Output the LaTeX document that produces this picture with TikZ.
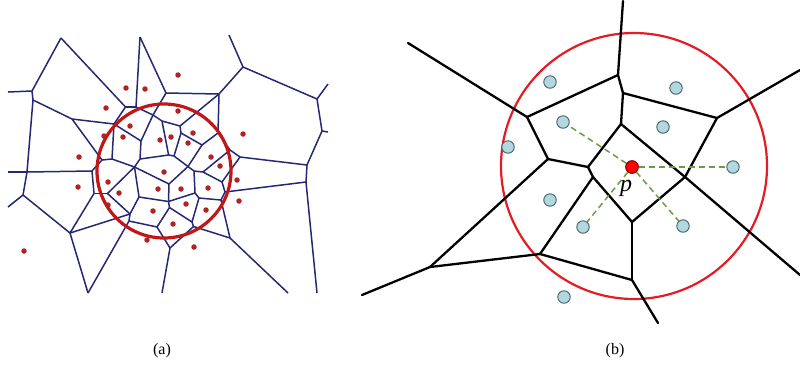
\documentclass[tikz,border=0pt]{standalone}
\usepackage{fontspec}
\setmainfont{Liberation Serif}
\usetikzlibrary{positioning}
\definecolor{navy}{RGB}{38,40,115}
\definecolor{dotred}{RGB}{178,34,34}
\definecolor{ringA}{RGB}{192,24,24}
\definecolor{ringB}{RGB}{228,28,36}
\definecolor{siteblue}{RGB}{176,216,222}
\definecolor{siteline}{RGB}{70,95,100}
\definecolor{link}{RGB}{105,155,75}
\tikzset{
  vedge/.style={draw=navy,line width=1.5pt},
  ldot/.style={circle,fill=dotred,inner sep=0pt,minimum size=5.5pt},
  bedge/.style={draw=black,line width=2.3pt},
  site/.style={circle,draw=siteline,fill=siteblue,line width=0.9pt,
    inner sep=0pt,minimum size=12.5pt},
  query/.style={circle,draw=red!55!black,fill=red,line width=0.9pt,
    inner sep=0pt,minimum size=12.5pt},
  nn/.style={draw=link,line width=1.5pt,dash pattern=on 6pt off 4pt},
  captext/.style={font=\fontsize{16}{18}\selectfont},
}

\begin{document}
\begin{tikzpicture}[x=1pt,y=-1pt]
  \useasboundingbox (0,0) rectangle (800,368);
  % (a) cells of the whole point set
  \foreach \n/\x/\y in {v1/61/38, v2/32/91, v2b/33/100, v3/125.5/107, v5/72/119,
      v6/114/124, t1/140/37, t2/136/107, v7/166/93, v8/219/94, v9/243/67,
      v10/317/99, v11/322/131, v12/307/165, v13/306/182, w1/230/238,
      q1/27/172, q4/23/195, q5/70/233, q6/88/293,
      x1/180/126, x2/162/121, x3/153/115, x4/141/141, x5/140/159,
      x6/168.6/155, x7/181/133, x8/174/156, x9/202/145, x10/218/133,
      x11/230/150, x12/240/157, x13/203/172, x14/188/166.5, x15/194/171,
      x16/169/184, x17/134.5/167, x18/112/159, x19/102/160, x20/92/171,
      x21/94/193.5, x22/107.5/193.5, x23/139/197, x24/168.5/201.5,
      x25/195/193, x26/199/198, x27/222/182, x28/225/192, x29/221/200,
      x30/192/222, x31/193.5/226.5, x32/170/248, x33/157/227,
      x34/169.5/207.5, x35/129/221, x36/130/214,
      e1/8/92, e2/229/35, e3/328/84, e4/328/132, e5/317/293, e6/288/293,
      e7/8/172, e8/8/207, e9/162/293}
    \coordinate (\n) at (\x,\y);
  \foreach \a/\b in {v1/v2, v1/v3, v2/e1, v2/v2b, v2b/v5, v2b/q1, v5/v6,
      v5/x19, v6/v3, v6/x4, v6/x18, v3/t2, t1/t2, t1/v7, t2/x3, x3/v7, x3/x2,
      x3/x4, v7/v8, v8/v9, v8/x10, v8/x1, v9/e2, v9/v10, v10/e3, v10/v11,
      v11/e4, v11/v12, v12/x12, v12/v13, v13/x28, v13/e5, w1/e6, w1/x29,
      w1/x31, q1/e7, q1/x20, q1/q4, q4/e8, q4/q5, q5/q6, q5/x21, q5/x36,
      q6/x35, x1/x2, x1/x7, x2/x6, x4/x5, x5/x6, x5/x17, x6/x8, x7/x8, x7/x9,
      x8/x14, x9/x10, x9/x14, x10/x11, x11/x12, x11/x13, x12/x27, x13/x15,
      x13/x27, x14/x15, x14/x16, x15/x25, x16/x17, x16/x24, x17/x18, x17/x22,
      x17/x23, x18/x19, x19/x20, x20/x21, x21/x22, x22/x36, x23/x24, x23/x36,
      x24/x25, x24/x34, x25/x26, x26/x29, x26/x30, x27/x28, x28/x29, x30/x34,
      x30/x31, x31/x32, x32/e9, x32/x33, x33/x34, x33/x35, x35/x36}
    \draw[vedge] (\a) -- (\b);
  \draw[ringA,line width=3.2pt] (164,171) circle[radius=67];
  \foreach \x/\y [count=\i] in {178/75, 126/88, 145/89, 106/108, 178/111,
      130/126, 104/136, 123/137, 160/140, 171/137, 188/143, 193/133, 243/134,
      79/157, 211/157, 220/166, 164/172, 237/180, 108/182, 158/189, 181/189,
      208/188, 78/187, 119/193, 239/201, 186/204, 153/211, 206/210, 108/205,
      173/224, 147/240, 194/247, 24/251}
    \node[ldot] (d\i) at (\x,\y) {};
  \node[captext] (capa) at (162,351) {(a)};

  % (b) the query point and its neighbours
  \draw[ringB,line width=2.2pt] (634,166) circle[radius=133];
  \foreach \n/\x/\y in {A/527/117, B/618/75, C/623/93, D/717/118, E/621/124,
      F/588/167, K/593/177, G/548/159, H/430/267, I/540/254, L/685/177,
      M/632/222, N/632/280, oA/408/43, oB/623/1, oD/800/70, oL/800/275,
      oH/362/295, oN/658/323}
    \coordinate (\n) at (\x,\y);
  \foreach \a/\b in {A/oA, A/B, A/G, B/oB, B/C, C/D, C/E, D/oD, D/L, E/L, E/F,
      F/G, F/K, K/M, K/I, G/H, H/oH, H/I, I/N, L/oL, L/M, M/N, N/oN}
    \draw[bedge,line cap=round] (\a) -- (\b);
  \node[query] (p) at (632,167) {};
  \node[site] (s1) at (550,82) {};
  \node[site] (s2) at (563,122) {};
  \node[site] (s3) at (508,147) {};
  \node[site] (s4) at (676,88) {};
  \node[site] (s5) at (663,127) {};
  \node[site] (s6) at (733,167) {};
  \node[site] (s7) at (683,226) {};
  \node[site] (s8) at (583,227) {};
  \node[site] (s9) at (550,200) {};
  \node[site] (s10) at (564,297) {};
  \foreach \s in {s2,s6,s7,s8}
    \draw[nn] (p) -- (\s);
  \node[query] at (p) {};
  \node[font=\fontsize{24}{26}\selectfont\itshape] (plab) at (626,188) {p};
  \node[captext] (capb) at (615,351) {(b)};
\end{tikzpicture}
\end{document}
